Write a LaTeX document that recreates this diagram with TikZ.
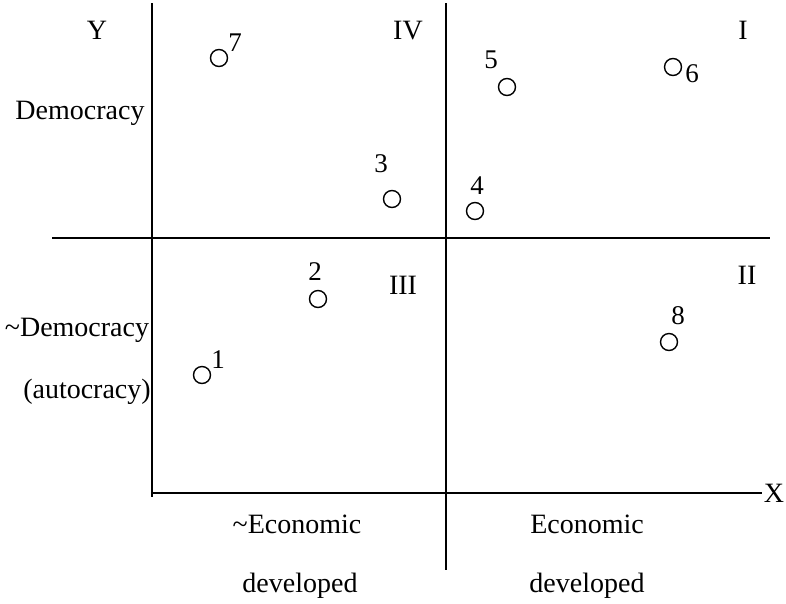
\documentclass[tikz,border=0pt]{standalone}
\usepackage{fontspec}
\setmainfont{Liberation Serif}
\begin{document}
\begin{tikzpicture}[x=1pt,y=-1pt,
  axis/.style={line width=1.5pt},
  lbl/.style={inner sep=0pt,text height=18.5pt,text depth=0pt,
    font=\fontsize{28}{33}\selectfont},
  num/.style={inner sep=0pt,text height=17.8pt,text depth=0pt,
    font=\fontsize{27}{31}\selectfont},
  pt/.style={circle,draw,line width=1.4pt,minimum size=17pt,inner sep=0pt}]
\useasboundingbox (0,0) rectangle (786,603);
% axes and quadrant dividers
\coordinate (ytop) at (152,3);
\coordinate (ybot) at (152,497);
\coordinate (mtop) at (446,3);
\coordinate (mbot) at (446,570);
\coordinate (hl) at (52,238);
\coordinate (hr) at (770,238);
\coordinate (xl) at (152,493);
\coordinate (xr) at (762,493);
\draw[axis] (ytop) -- (ybot);
\draw[axis] (mtop) -- (mbot);
\draw[axis] (hl) -- (hr);
\draw[axis] (xl) -- (xr);
% axis and quadrant labels
\node[lbl] (Y) at (97,30) {Y};
\node[lbl] (X) at (774,493) {X};
\node[lbl] (q1) at (743,30) {I};
\node[lbl] (q2) at (747,275) {II};
\node[lbl] (q3) at (403,285) {III};
\node[lbl] (q4) at (408,30) {IV};
\node[lbl] (dem) at (80,110) {Democracy};
\node[lbl] (ndem) at (77,327) {\textasciitilde Democracy};
\node[lbl] (auto) at (87,389) {(autocracy)};
\node[lbl] (neco) at (297,524) {\textasciitilde Economic};
\node[lbl] (eco) at (587,524) {Economic};
\node[lbl] (dev1) at (300,583) {developed};
\node[lbl] (dev2) at (587,583) {developed};
% cases
\node[pt] (p1) at (202,375) {};
\node[pt] (p2) at (318,299) {};
\node[pt] (p3) at (392,199) {};
\node[pt] (p4) at (475,211) {};
\node[pt] (p5) at (507,87) {};
\node[pt] (p6) at (673,67) {};
\node[pt] (p7) at (219,58) {};
\node[pt] (p8) at (669,342) {};
\node[num] (n1) at (218,360) {1};
\node[num] (n2) at (315,272) {2};
\node[num] (n3) at (381,164) {3};
\node[num] (n4) at (477,186) {4};
\node[num] (n5) at (491,60) {5};
\node[num] (n6) at (692,74) {6};
\node[num] (n7) at (235,43) {7};
\node[num] (n8) at (678,316) {8};
\end{tikzpicture}
\end{document}
